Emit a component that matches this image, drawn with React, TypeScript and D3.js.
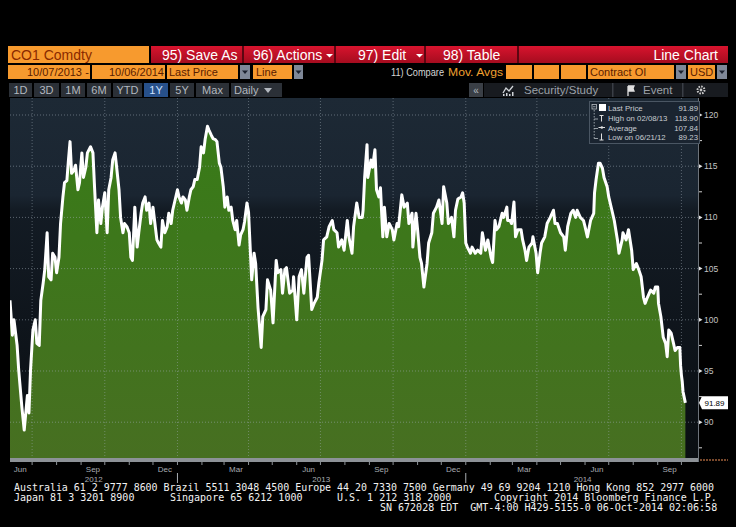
import React from "react";
import * as d3 from "d3";

// ---------- data ----------
const dates: string[] = [
  "2012-06-03","2012-06-06","2012-06-08","2012-06-12","2012-06-14","2012-06-18","2012-06-21","2012-06-25","2012-06-27","2012-06-29",
  "2012-07-02","2012-07-05","2012-07-07","2012-07-10","2012-07-12","2012-07-15","2012-07-17","2012-07-20","2012-07-22","2012-07-25",
  "2012-07-27","2012-07-30","2012-08-01","2012-08-04","2012-08-06","2012-08-09","2012-08-11","2012-08-14","2012-08-16","2012-08-18",
  "2012-08-20","2012-08-23","2012-08-25","2012-08-28","2012-08-30","2012-09-02","2012-09-04","2012-09-07","2012-09-09","2012-09-13",
  "2012-09-16","2012-09-18","2012-09-21","2012-09-23","2012-09-26","2012-09-28","2012-10-01","2012-10-04","2012-10-06","2012-10-09",
  "2012-10-11","2012-10-14","2012-10-16","2012-10-19","2012-10-21","2012-10-24","2012-10-26","2012-10-29","2012-11-01","2012-11-03",
  "2012-11-05","2012-11-08","2012-11-11","2012-11-13","2012-11-16","2012-11-18","2012-11-21","2012-11-23","2012-11-26","2012-11-28",
  "2012-12-01","2012-12-03","2012-12-06","2012-12-08","2012-12-11","2012-12-13","2012-12-16","2012-12-19","2012-12-21","2012-12-24",
  "2012-12-26","2012-12-29","2013-01-01","2013-01-03","2013-01-06","2013-01-08","2013-01-11","2013-01-13","2013-01-16","2013-01-18",
  "2013-01-21","2013-01-23","2013-01-26","2013-01-29","2013-01-31","2013-02-03","2013-02-05","2013-02-08","2013-02-10","2013-02-13",
  "2013-02-15","2013-02-18","2013-02-20","2013-02-23","2013-02-25","2013-02-28","2013-03-02","2013-03-05","2013-03-07","2013-03-10",
  "2013-03-12","2013-03-15","2013-03-17","2013-03-20","2013-03-22","2013-03-25","2013-03-27","2013-03-30","2013-04-01","2013-04-04",
  "2013-04-05","2013-04-08","2013-04-10","2013-04-13","2013-04-17","2013-04-19","2013-04-23","2013-04-25","2013-04-29","2013-05-02",
  "2013-05-06","2013-05-08","2013-05-12","2013-05-14","2013-05-17","2013-05-19","2013-05-23","2013-05-27","2013-05-28","2013-06-01",
  "2013-06-04","2013-06-07","2013-06-10","2013-06-14","2013-06-16","2013-06-20","2013-06-23","2013-06-27","2013-06-29","2013-07-03",
  "2013-07-05","2013-07-09","2013-07-12","2013-07-16","2013-07-18","2013-07-22","2013-07-24","2013-07-28","2013-07-31","2013-08-04",
  "2013-08-06","2013-08-10","2013-08-12","2013-08-16","2013-08-19","2013-08-23","2013-08-24","2013-08-26","2013-08-29","2013-08-30",
  "2013-09-03","2013-09-05","2013-09-08","2013-09-10","2013-09-13","2013-09-15","2013-09-18","2013-09-20","2013-09-23","2013-09-26",
  "2013-09-30","2013-10-02","2013-10-06","2013-10-08","2013-10-12","2013-10-15","2013-10-19","2013-10-21","2013-10-25","2013-10-26",
  "2013-10-30","2013-11-01","2013-11-04","2013-11-06","2013-11-09","2013-11-13","2013-11-15","2013-11-19","2013-11-21","2013-11-25",
  "2013-11-28","2013-12-02","2013-12-04","2013-12-08","2013-12-10","2013-12-14","2013-12-17","2013-12-19","2013-12-22","2013-12-26",
  "2013-12-28","2013-12-30","2014-01-01","2014-01-03","2014-01-07","2014-01-09","2014-01-13","2014-01-16","2014-01-20","2014-01-22",
  "2014-01-26","2014-01-29","2014-02-02","2014-02-04","2014-02-07","2014-02-09","2014-02-12","2014-02-16","2014-02-18","2014-02-22",
  "2014-02-23","2014-02-26","2014-02-28","2014-03-03","2014-03-05","2014-03-08","2014-03-12","2014-03-14","2014-03-17","2014-03-19",
  "2014-03-22","2014-03-26","2014-03-27","2014-03-31","2014-04-02","2014-04-05","2014-04-07","2014-04-11","2014-04-14","2014-04-18",
  "2014-04-22","2014-04-24","2014-04-27","2014-05-01","2014-05-05","2014-05-07","2014-05-10","2014-05-14","2014-05-17","2014-05-20",
  "2014-05-22","2014-05-26","2014-05-30","2014-06-01","2014-06-04","2014-06-08","2014-06-12","2014-06-13","2014-06-15","2014-06-18",
  "2014-06-20","2014-06-23","2014-06-25","2014-06-29","2014-07-01","2014-07-05","2014-07-08","2014-07-12","2014-07-14","2014-07-18",
  "2014-07-19","2014-07-23","2014-07-26","2014-07-30","2014-08-01","2014-08-05","2014-08-08","2014-08-11","2014-08-14","2014-08-16",
  "2014-08-19","2014-08-23","2014-08-27","2014-08-29","2014-09-01","2014-09-02","2014-09-05","2014-09-08","2014-09-11","2014-09-13",
  "2014-09-15","2014-09-18","2014-09-21","2014-09-23","2014-09-26","2014-09-29","2014-09-30","2014-10-01","2014-10-02","2014-10-03",
  "2014-10-06",
];
const prices: number[] = [
  101.9,98.5,100.0,97.5,95.1,91.5,89.23,92.6,90.9,95.1,
  99.0,100.0,97.7,97.5,101.9,103.6,104.9,108.5,104.2,103.9,
  106.5,106.1,104.6,106.1,109.4,112.0,113.4,113.6,115.6,117.4,
  114.3,114.6,115.1,112.7,113.4,116.3,113.9,114.9,116.3,116.9,
  116.3,113.0,108.5,111.7,109.4,111.0,112.4,108.5,112.7,113.9,
  115.6,116.3,114.9,112.7,110.0,108.5,109.4,109.1,108.5,106.1,
  105.8,111.0,107.1,108.5,110.4,111.4,112.0,110.7,111.4,109.4,
  111.0,109.7,107.8,107.5,107.1,109.7,108.5,109.1,110.4,109.4,
  110.7,111.7,112.7,112.0,111.4,112.0,111.7,110.7,112.0,112.7,
  113.0,113.7,113.7,114.9,116.9,116.3,117.6,118.9,118.5,118.0,
  117.7,117.6,117.4,115.3,114.9,113.0,111.0,112.0,110.7,111.0,
  109.7,108.8,109.7,107.3,108.3,108.8,109.6,111.4,110.5,105.5,
  103.9,106.5,105.5,101.2,97.3,100.3,101.0,103.9,102.9,99.7,
  105.8,104.6,104.9,102.6,104.9,105.1,102.6,102.9,104.2,100.0,
  104.2,104.9,102.6,106.1,106.3,101.0,101.6,102.2,103.6,105.8,
  107.8,108.1,109.1,109.7,108.8,108.5,107.1,107.8,106.8,109.7,
  108.1,106.5,109.1,111.4,110.0,110.0,110.7,113.9,117.1,113.9,
  115.6,114.9,116.6,112.7,112.0,112.9,108.1,111.0,108.1,109.4,
  108.8,107.8,109.4,109.1,112.2,111.0,111.4,109.4,110.4,107.1,
  110.4,108.8,106.1,105.5,103.2,105.5,107.5,108.5,110.4,111.0,
  111.7,109.4,113.0,111.4,109.4,110.0,108.1,110.7,111.8,112.0,
  112.4,111.4,107.5,107.1,106.5,107.1,106.5,106.8,106.5,108.5,
  106.8,107.8,106.1,105.6,109.7,108.8,109.1,110.4,110.0,111.0,
  109.7,109.7,109.4,111.5,108.1,108.8,108.8,107.8,106.8,105.8,
  107.1,107.5,108.1,106.5,104.6,106.5,107.5,108.1,109.4,110.0,
  110.7,109.4,109.4,108.5,108.1,106.8,109.1,110.4,110.7,110.0,
  110.7,110.0,109.7,109.1,108.1,109.7,110.4,112.4,113.7,115.3,
  115.3,114.8,113.9,113.0,112.0,110.7,109.7,107.8,106.5,107.8,
  108.5,107.8,108.8,106.8,104.9,105.5,104.9,104.2,102.2,101.6,
  102.2,102.9,102.6,103.2,103.2,101.6,100.3,98.3,97.7,96.4,
  99.0,98.7,97.7,97.0,97.3,97.3,95.5,94.6,94.0,93.0,
  91.89,
];

const yTicks: number[] = [90, 95, 100, 105, 110, 115, 120];
const yMinorTicks: number[] = [87.5, 92.5, 97.5, 102.5, 107.5, 112.5, 117.5];
const yearLabels: string[] = ["2012", "2013", "2014"];
const yearLabelDates: string[] = ["2012-09-17", "2013-07-02", "2014-05-29"];
const yearBreakDates: string[] = ["2013-01-01", "2014-01-01"];
const legendLabels: string[] = ["Last Price", "High on 02/08/13", "Average", "Low on 06/21/12"];
const legendValues: string[] = ["91.89", "118.90", "107.84", "89.23"];
const lastPriceLabel = "91.89";
const periodButtons: string[] = ["1D", "3D", "1M", "6M", "YTD", "1Y", "5Y", "Max"];
const periodButtonEdges: number[][] = [[9, 32], [34, 59], [61, 85], [87, 111], [113, 142], [144, 168], [170, 194], [196, 229]];
const footerLine1 = "Australia 61 2 9777 8600 Brazil 5511 3048 4500 Europe 44 20 7330 7500 Germany 49 69 9204 1210 Hong Kong 852 2977 6000";
const footerLine2 = ["Japan 81 3 3201 8900", "Singapore 65 6212 1000", "U.S. 1 212 318 2000", "Copyright 2014 Bloomberg Finance L.P."];
const footerLine3 = "SN 672028 EDT  GMT-4:00 H429-5155-0 06-Oct-2014 02:06:58";

const parse = d3.timeParse("%Y-%m-%d");
const SANS = "'Liberation Sans', Arial, sans-serif";
const MONO = "'DejaVu Sans Mono', 'Liberation Mono', monospace";

export default function App() {
  const W = 736, H = 527;
  const L = 10, R = 698, T = 98, B = 458;

  const data = dates.map((d, i) => ({ date: parse(d) as Date, v: prices[i] }));
  const x = d3.scaleTime().domain([parse("2012-06-03") as Date, parse("2014-10-22") as Date]).range([L, R]);
  const y = d3.scaleLinear().domain([90, 120]).range([422.2, 115]);

  const area = d3.area<{ date: Date; v: number }>().x(d => x(d.date)).y0(B).y1(d => y(d.v));
  const line = d3.line<{ date: Date; v: number }>().x(d => x(d.date)).y(d => y(d.v));

  const quarterTicks = x.ticks(d3.timeMonth.every(3) as any);
  const monthTicks = x.ticks(d3.timeMonth.every(1) as any);
  const labelMonths = d3.timeMonth
    .range(d3.timeMonth.floor(x.domain()[0]), x.domain()[1])
    .filter(m => m.getMonth() % 3 === 2);
  const fmtMonth = d3.timeFormat("%b");

  const lastY = y(prices[prices.length - 1]);

  const orange = "#f79a2e";
  const orangeText = "#5a1c00";
  const greyBtn = (x0: number, x1: number, yy: number, h: number, key: string) => (
    <g key={key}>
      <rect x={x0} y={yy} width={x1 - x0} height={h} fill="#7f8898" />
      <path d={`M${(x0 + x1) / 2 - 3},${yy + h / 2 - 1.5} L${(x0 + x1) / 2 + 3},${yy + h / 2 - 1.5} L${(x0 + x1) / 2},${yy + h / 2 + 2} Z`} fill="#1c2230" />
    </g>
  );

  return (
    <svg width={W} height={H} style={{ position: "absolute", left: 0, top: 0, display: "block" }} xmlns="http://www.w3.org/2000/svg">
      <defs>
        <linearGradient id="bg" x1="0" y1="0" x2="0" y2="1">
          <stop offset="0" stopColor="#1d2935" />
          <stop offset="0.27" stopColor="#1a2531" />
          <stop offset="0.31" stopColor="#131b24" />
          <stop offset="1" stopColor="#0a0e12" />
        </linearGradient>
        <linearGradient id="grn" x1="0" y1="0" x2="0" y2="1">
          <stop offset="0" stopColor="#387b18" />
          <stop offset="1" stopColor="#476f21" />
        </linearGradient>
        <linearGradient id="red" x1="0" y1="0" x2="0" y2="1">
          <stop offset="0" stopColor="#d8142e" />
          <stop offset="1" stopColor="#a50c1f" />
        </linearGradient>
        <clipPath id="plotClip">
          <rect x={L} y={T} width={R - L} height={B - T} />
        </clipPath>
      </defs>

      <rect x={0} y={0} width={W} height={H} fill="#000" />

      {/* ---------- header row 1 ---------- */}
      <rect x={8} y={46} width={141} height={17} fill={orange} />
      <text x={11} y={59.5} fontFamily={SANS} fontSize={14} fill="#8a2a00">CO1 Comdty</text>
      <rect x={151} y={46} width={577} height={17} fill="url(#red)" />
      {[243, 335, 425, 518].map(s => (
        <rect key={s} x={s - 1} y={46} width={2} height={17} fill="#5c0611" />
      ))}
      <g fontFamily={SANS} fontSize={14} fill="#fff">
        <text x={162} y={59.5}>95) Save As</text>
        <text x={253} y={59.5}>96) Actions</text>
        <text x={358} y={59.5}>97) Edit</text>
        <text x={443} y={59.5}>98) Table</text>
        <text x={718} y={59.5} textAnchor="end">Line Chart</text>
      </g>
      <path d="M326,54 L333,54 L329.5,57.5 Z" fill="#fff" />
      <path d="M416,54 L423,54 L419.5,57.5 Z" fill="#fff" />

      {/* ---------- header row 2 ---------- */}
      <g fontFamily={SANS} fontSize={11} fill={orangeText}>
        <rect x={8} y={65} width={76} height={14} fill={orange} />
        <text x={82} y={76} textAnchor="end">10/07/2013</text>
        <rect x={84} y={65} width={6} height={14} fill={orange} />
        <text x={87} y={75.5} textAnchor="middle">-</text>
        <rect x={92} y={65} width={73} height={14} fill={orange} />
        <text x={164} y={76} textAnchor="end">10/06/2014</text>
        <rect x={167} y={65} width={71} height={14} fill={orange} />
        <text x={169} y={76}>Last Price</text>
        <rect x={253} y={65} width={39} height={14} fill={orange} />
        <text x={256} y={76}>Line</text>
        <rect x={506} y={65} width={26} height={14} fill={orange} />
        <rect x={534} y={65} width={25} height={14} fill={orange} />
        <rect x={561} y={65} width={25} height={14} fill={orange} />
        <rect x={588} y={65} width={86} height={14} fill={orange} />
        <text x={590} y={76}>Contract OI</text>
        <rect x={688} y={65} width={27} height={14} fill={orange} />
        <text x={690} y={76}>USD</text>
      </g>
      {greyBtn(240, 250, 65, 14, "g1")}
      {greyBtn(294, 303, 65, 14, "g2")}
      {greyBtn(676, 686, 65, 14, "g3")}
      {greyBtn(717, 727, 65, 14, "g4")}
      <text x={391} y={76} fontFamily={SANS} fontSize={10.5} fill="#d6d6d6" textLength={53} lengthAdjust="spacingAndGlyphs">11) Compare</text>
      <text x={448} y={76} fontFamily={SANS} fontSize={11} fill="#f0a030" textLength={55} lengthAdjust="spacingAndGlyphs">Mov. Avgs</text>

      {/* ---------- header row 3 ---------- */}
      {periodButtons.map((b, i) => {
        const [a, c] = periodButtonEdges[i];
        const active = b === "1Y";
        return (
          <g key={b}>
            <rect x={a} y={83} width={c - a} height={14} fill={active ? "#27508a" : "#2b3037"} />
            <text x={(a + c) / 2} y={94} textAnchor="middle" fontFamily={SANS} fontSize={11} fill={active ? "#cfe1ff" : "#b3b8bf"}>{b}</text>
          </g>
        );
      })}
      <rect x={231} y={83} width={51} height={14} fill="#2b3037" />
      <text x={234} y={94} fontFamily={SANS} fontSize={11} fill="#b3b8bf">Daily</text>
      <path d="M264,88 L272,88 L268,93 Z" fill="#b3b8bf" />

      <rect x={469} y={83} width={14} height={14} fill="#3a3f46" />
      <text x={476} y={93.5} textAnchor="middle" fontFamily={SANS} fontSize={10} fill="#b3b8bf">«</text>
      <rect x={484} y={83} width={244} height={14} fill="#181b20" />
      <rect x={612} y={83} width={1.5} height={14} fill="#3a3f46" />
      <rect x={682} y={83} width={1.5} height={14} fill="#3a3f46" />
      <path d="M503,93 L506,88 L509,91 L513,86" stroke="#d0d4d8" strokeWidth={1.3} fill="none" />
      <rect x={503} y={94} width={1.5} height={2} fill="#d0d4d8" />
      <rect x={506} y={93} width={1.5} height={3} fill="#d0d4d8" />
      <rect x={509} y={94} width={1.5} height={2} fill="#d0d4d8" />
      <rect x={512} y={92} width={1.5} height={4} fill="#d0d4d8" />
      <text x={524} y={94} fontFamily={SANS} fontSize={11.5} fill="#9ba1a8">Security/Study</text>
      <path d="M628,86 L628,96 M628,86 L634,86 L633,88.5 L634,91 L628,91" stroke="#e0e0e0" strokeWidth={1.3} fill="#e0e0e0" />
      <text x={643} y={94} fontFamily={SANS} fontSize={11.5} fill="#9ba1a8">Event</text>
      <circle cx={701} cy={90} r={3.5} fill="none" stroke="#c8c8c8" strokeWidth={2} strokeDasharray="1.6 1.1" />
      <circle cx={701} cy={90} r={1.4} fill="#c8c8c8" />

      {/* ---------- plot ---------- */}
      <rect x={L} y={T} width={R - L} height={B - T} fill="url(#bg)" />
      <g clipPath="url(#plotClip)">
        <path d={area(data) as string} fill="url(#grn)" />
        {yTicks.map(t => (
          <line key={t} x1={L} x2={R} y1={y(t)} y2={y(t)} stroke="#a6b2bd" strokeOpacity={0.5} strokeDasharray="1 2" />
        ))}
        {quarterTicks.map(t => (
          <line key={+t} x1={x(t)} x2={x(t)} y1={T} y2={B} stroke="#a6b2bd" strokeOpacity={0.45} strokeDasharray="1 2" />
        ))}
        <path d={line(data) as string} fill="none" stroke="#ffffff" strokeWidth={3} strokeLinejoin="round" />
      </g>

      {/* x axis strip */}
      <rect x={L} y={458} width={R - L} height={4} fill="#8d9297" />
      <line x1={R + 2} x2={728} y1={460} y2={460} stroke="#a0603a" strokeWidth={1.5} strokeDasharray="2 1" />
      {monthTicks.map(t => (
        <line key={+t} x1={x(t)} x2={x(t)} y1={462} y2={465} stroke="#8d9297" strokeWidth={1} />
      ))}
      {labelMonths.map(m => (
        <text key={+m} x={x(d3.timeDay.offset(m, 15))} y={472} textAnchor="middle" fontFamily={SANS} fontSize={8} fill="#a9adb2">{fmtMonth(m)}</text>
      ))}
      {yearBreakDates.map(d => (
        <line key={d} x1={x(parse(d) as Date)} x2={x(parse(d) as Date)} y1={473} y2={483} stroke="#a9adb2" strokeWidth={1} />
      ))}
      {yearLabels.map((lab, i) => (
        <text key={lab} x={x(parse(yearLabelDates[i]) as Date)} y={481.5} textAnchor="middle" fontFamily={SANS} fontSize={8} fill="#a9adb2">{lab}</text>
      ))}

      {/* y axis (right) */}
      <line x1={R + 0.5} x2={R + 0.5} y1={T} y2={462} stroke="#6d737a" strokeWidth={1} />
      {yMinorTicks.map(t => (
        <line key={t} x1={R + 1} x2={R + 4} y1={y(t)} y2={y(t)} stroke="#d0d0d0" strokeWidth={1} />
      ))}
      {yTicks.map(t => (
        <g key={t}>
          <path d={`M${R + 1},${y(t) - 2} L${R + 4.5},${y(t)} L${R + 1},${y(t) + 2} Z`} fill="#e0e0e0" />
          <text x={R + 6} y={y(t) + 3} fontFamily={SANS} fontSize={8.5} fill="#c4c4c4">{t}</text>
        </g>
      ))}

      {/* last price tag */}
      <path d={`M${R + 1},${lastY} L${R + 4},${lastY - 6.5} L728,${lastY - 6.5} L728,${lastY + 6.5} L${R + 4},${lastY + 6.5} Z`} fill="#ffffff" />
      <text x={714.5} y={lastY + 3} textAnchor="middle" fontFamily={SANS} fontSize={8} fill="#000">{lastPriceLabel}</text>

      {/* legend */}
      <rect x={589.5} y={101.5} width={110} height={42} fill="#1a2430" stroke="#4a5663" strokeWidth={1} />
      <g stroke="#b8bec4" strokeWidth={0.8} fill="none">
        <rect x={592} y={104.5} width={4.5} height={4.5} />
        <line x1={593} x2={595.5} y1={106.75} y2={106.75} />
        <line x1={594.2} x2={594.2} y1={110} y2={139} strokeDasharray="1.5 1.5" />
        <line x1={594.2} x2={598} y1={119} y2={119} />
        <line x1={594.2} x2={598} y1={128.5} y2={128.5} />
        <line x1={594.2} x2={598} y1={138.5} y2={138.5} />
      </g>
      <rect x={599} y={104} width={7} height={7} fill="#ffffff" />
      <g stroke="#e0e0e0" strokeWidth={1} fill="none">
        <path d="M599.5,115.5 L603.5,115.5 M601.5,115.5 L601.5,121.5" />
        <path d="M598.5,127.5 L605,127.5" />
        <path d="M601.5,133.5 L601.5,140 M599.5,140 L603.5,140" />
      </g>
      <circle cx={601.8} cy={127.5} r={1.3} fill="#e0e0e0" />
      {legendLabels.map((lab, i) => (
        <g key={lab} fontFamily={SANS} fontSize={7.8} fill="#c8ccd0">
          <text x={608} y={111 + i * 9.8}>{lab}</text>
          <text x={698} y={111 + i * 9.8} textAnchor="end">{legendValues[i]}</text>
        </g>
      ))}

      {/* footer */}
      <g fontFamily={MONO} fontSize={10} fill="#f2f2f2" xmlSpace="preserve">
        <text x={14} y={491} textLength={700} lengthAdjust="spacingAndGlyphs">{footerLine1}</text>
        <text x={14} y={501}>{footerLine2[0]}</text>
        <text x={170} y={501}>{footerLine2[1]}</text>
        <text x={337} y={501}>{footerLine2[2]}</text>
        <text x={494} y={501}>{footerLine2[3]}</text>
        <text x={380} y={510.5} style={{ whiteSpace: "pre" }}>{footerLine3}</text>
      </g>
    </svg>
  );
}
